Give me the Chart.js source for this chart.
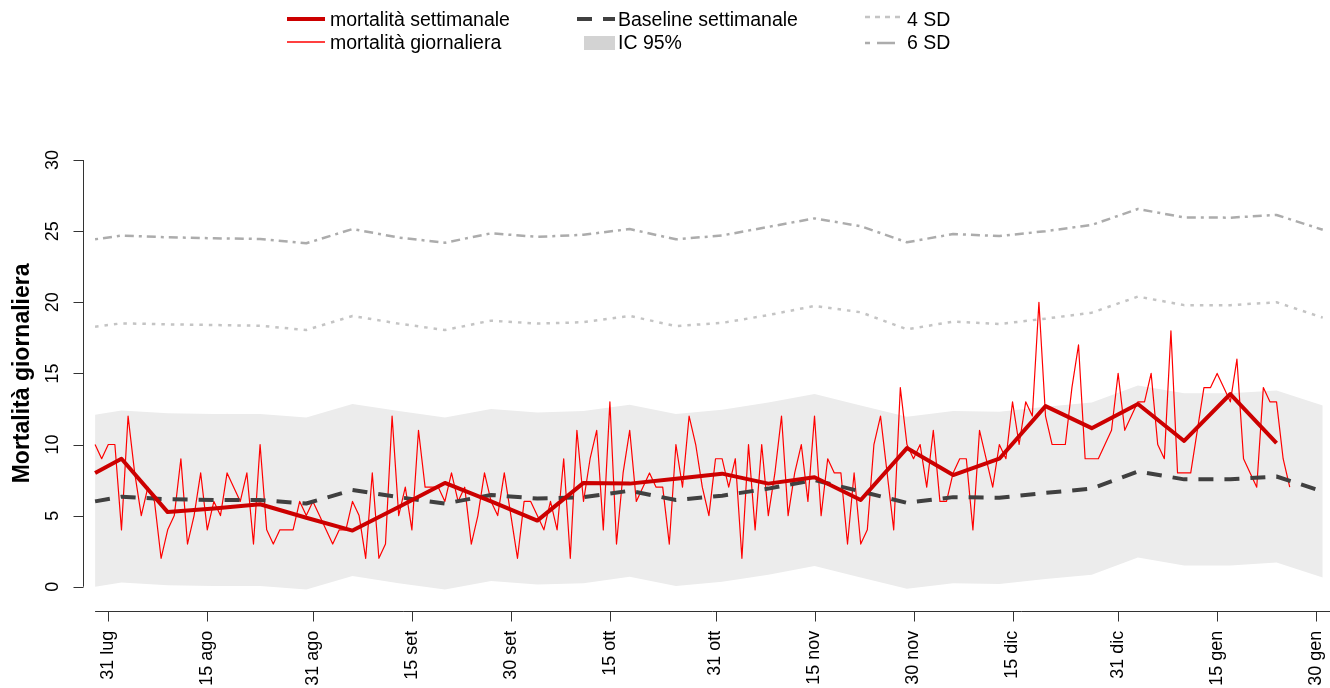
<!DOCTYPE html>
<html>
<head>
<meta charset="utf-8">
<script src="https://cdn.jsdelivr.net/npm/chart.js@4.4.0/dist/chart.umd.min.js"></script>
<style>
  body { margin: 0; background: #fff; }
  #wrap { position: relative; width: 1330px; height: 688px; }
  #legend { position: absolute; left: 0; top: 0; width: 1330px; height: 60px;
            font-family: 'Liberation Sans', Arial, sans-serif; font-size: 19.5px; color: #000; }
  #legend span { position: absolute; line-height: 22px; white-space: nowrap; }
  #legend svg { position: absolute; }
</style>
</head>
<body>
<div id="wrap">
  <canvas id="myChart" width="1330" height="688"></canvas>
  <div id="legend">
    <svg style="left:285px;top:14px" width="42" height="10"><line x1="2" y1="5" x2="40" y2="5" stroke="#cc0000" stroke-width="4"/></svg>
    <span style="left:330px;top:8px">mortalità settimanale</span>
    <svg style="left:285px;top:37px" width="42" height="10"><line x1="2" y1="5" x2="40" y2="5" stroke="#ff0000" stroke-width="1.5"/></svg>
    <span style="left:330px;top:31px">mortalità giornaliera</span>

    <svg style="left:575px;top:14px" width="42" height="10"><line x1="2" y1="5" x2="40" y2="5" stroke="#404040" stroke-width="4" stroke-dasharray="15 11"/></svg>
    <span style="left:618px;top:8px">Baseline settimanale</span>
    <svg style="left:584px;top:36px" width="31" height="14"><rect x="0" y="0" width="31" height="14" fill="#d3d3d3"/></svg>
    <span style="left:618px;top:31px">IC 95%</span>

    <svg style="left:863px;top:12px" width="40" height="10"><line x1="2" y1="5" x2="37" y2="5" stroke="#c4c4c4" stroke-width="2.5" stroke-dasharray="5 5"/></svg>
    <span style="left:907px;top:8px">4 SD</span>
    <svg style="left:863px;top:38px" width="40" height="10"><line x1="2" y1="5" x2="37" y2="5" stroke="#acacac" stroke-width="2.5" stroke-dasharray="5 7 18 7"/></svg>
    <span style="left:907px;top:31px">6 SD</span>
  </div>
</div>
<script>
    // giorni contati dal 31 luglio (giorno 0)
    var tickDays = [0, 15, 31, 46, 61, 76, 92, 107, 122, 137, 153, 168, 183];
    var tickLabels = ['31 lug', '15 ago', '31 ago', '15 set', '30 set', '15 ott', '31 ott',
                      '15 nov', '30 nov', '15 dic', '31 dic', '15 gen', '30 gen'];
    var yTicks = [0, 5, 10, 15, 20, 25, 30];

    // settimane
    var weekDays = [-2, 2, 9, 16, 23, 30, 37, 44, 51, 58, 65, 72, 79, 86, 93, 100, 107,
                    114, 121, 128, 135, 142, 149, 156, 163, 170, 177, 184];
    var mortSett = [8.0, 9.0, 5.25, 5.5, 5.8, 4.85, 3.95, 5.6, 7.3, 6.0, 4.65, 7.3, 7.25, 7.6,
                    7.95, 7.25, 7.7, 6.1, 9.75, 7.85, 9.0, 12.7, 11.15, 12.85, 10.25, 13.55, 10.1];
    var baseline = [6.0, 6.33, 6.15, 6.1, 6.1, 5.85, 6.8, 6.3, 5.85, 6.45, 6.2, 6.3, 6.75, 6.1,
                    6.4, 6.9, 7.5, 6.7, 5.9, 6.3, 6.25, 6.6, 6.9, 8.1, 7.55, 7.55, 7.75, 6.7];
    var icLow = [0.0, 0.3, 0.1, 0.05, 0.05, -0.2, 0.75, 0.25, -0.2, 0.4, 0.15, 0.25, 0.7, 0.05,
                 0.35, 0.85, 1.45, 0.65, -0.15, 0.25, 0.2, 0.55, 0.85, 2.05, 1.5, 1.5, 1.7, 0.65];
    var icHigh = [12.1, 12.4, 12.2, 12.15, 12.15, 11.9, 12.85, 12.35, 11.9, 12.5, 12.25, 12.35, 12.8, 12.15,
                  12.45, 12.95, 13.55, 12.75, 11.95, 12.35, 12.3, 12.65, 12.95, 14.15, 13.6, 13.6, 13.8, 12.75];
    var sd4 = [18.28, 18.52, 18.45, 18.4, 18.35, 18.05, 19.04, 18.5, 18.05, 18.71, 18.5, 18.6, 19.04, 18.33,
               18.55, 19.1, 19.74, 19.3, 18.1, 18.64, 18.47, 18.85, 19.27, 20.4, 19.8, 19.8, 20.0, 18.92];
    var sd6 = [24.43, 24.69, 24.57, 24.5, 24.45, 24.15, 25.15, 24.55, 24.19, 24.85, 24.6, 24.75, 25.15, 24.43,
               24.7, 25.3, 25.9, 25.35, 24.22, 24.8, 24.66, 25.0, 25.44, 26.56, 25.97, 25.95, 26.14, 25.1];

    // mortalità giornaliera dal 29 luglio (giorno -2)
    var firstDay = -2;
    var mortGiorn = [
        10, 9, 10, 10, 4, 12, 8, 5, 7, 6,
        2, 4, 5, 9, 3, 5, 8, 4, 6, 5,
        8, 7, 6, 8, 3, 10, 4, 3, 4, 4,
        4, 6, 5, 6, 5, 4, 3, 4, 4, 6,
        5, 2, 8, 2, 3, 12, 5,
        7, 4, 11, 7, 7, 7, 6, 8, 6, 7,
        3, 5, 8, 6, 5, 8, 5, 2, 6, 6,
        5, 4, 6, 4, 9, 2, 11, 6, 9, 11,
        4, 13, 3, 8, 11, 6, 7, 8, 7, 7,
        3, 10, 7, 12, 10, 7, 5, 9,
        9, 7, 9, 2, 10, 4, 10, 5, 8, 12,
        5, 8, 10, 6, 12, 5, 9, 8, 8, 3,
        8, 3, 4, 10, 12, 8, 4, 14, 10, 9,
        10, 7, 11, 6, 6, 8, 9, 9, 4, 11,
        9, 7, 10,
        9, 13, 10, 13, 12, 20, 12, 10, 10, 10,
        14, 17, 9, 9, 9, 10, 11, 15, 11, 12,
        13, 13, 15, 10, 9, 18, 8, 8, 8, 11,
        14, 14, 15, 14, 13, 16, 9, 8, 7, 14,
        13, 13, 9, 7
    ];

    function pts(days, vals) {
        return vals.map(function (v, i) { return {x: days[i], y: v}; });
    }
    var dailyPts = mortGiorn.map(function (v, i) { return {x: firstDay + i, y: v}; });

    var tickFont = {family: "'Liberation Sans', Arial, sans-serif", size: 18};

    // assi alla maniera di R: linea solo tra il primo e l'ultimo tick
    var rAxes = {
        id: 'rAxes',
        afterDraw: function (chart) {
            var ctx = chart.ctx, area = chart.chartArea;
            var x = chart.scales.x, y = chart.scales.y;
            ctx.save();
            ctx.strokeStyle = '#333';
            ctx.lineWidth = 1;
            ctx.beginPath();
            var ax = Math.round(area.left) + 0.5;
            ctx.moveTo(ax, y.getPixelForValue(yTicks[0]));
            ctx.lineTo(ax, y.getPixelForValue(yTicks[yTicks.length - 1]));
            yTicks.forEach(function (v) {
                var py = Math.round(y.getPixelForValue(v)) + 0.5;
                ctx.moveTo(ax, py);
                ctx.lineTo(ax - 10, py);
            });
            var ay = Math.round(area.bottom + 7) + 0.5;
            ctx.moveTo(x.getPixelForValue(firstDay), ay);
            ctx.lineTo(area.right, ay);
            tickDays.forEach(function (d) {
                var px = Math.round(x.getPixelForValue(d)) + 0.5;
                ctx.moveTo(px, ay);
                ctx.lineTo(px, ay + 10);
            });
            ctx.stroke();
            ctx.restore();
        }
    };

    var ctx = document.getElementById('myChart').getContext('2d');
    var myChart = new Chart(ctx, {
        type: 'line',
        data: {
            datasets: [{
                label: 'IC 95% inf',
                data: pts(weekDays, icLow),
                borderWidth: 0,
                fill: false,
                order: 6
            }, {
                label: 'IC 95%',
                data: pts(weekDays, icHigh),
                borderWidth: 0,
                backgroundColor: '#ececec',
                fill: 0,
                order: 5
            }, {
                label: '6 SD',
                data: pts(weekDays, sd6),
                borderColor: '#acacac',
                borderWidth: 2.5,
                borderDash: [3, 5, 9, 5],
                order: 4
            }, {
                label: '4 SD',
                data: pts(weekDays, sd4),
                borderColor: '#c4c4c4',
                borderWidth: 2.5,
                borderDash: [3.5, 6],
                order: 3
            }, {
                label: 'mortalità giornaliera',
                data: dailyPts,
                borderColor: '#ff0000',
                borderWidth: 1.2,
                order: 2
            }, {
                label: 'Baseline settimanale',
                data: pts(weekDays, baseline),
                borderColor: '#404040',
                borderWidth: 4,
                borderDash: [15, 11],
                order: 1
            }, {
                label: 'mortalità settimanale',
                data: pts(weekDays, mortSett),
                borderColor: '#cc0000',
                borderWidth: 4,
                order: 0
            }]
        },
        options: {
            responsive: false,
            animation: false,
            events: [],
            elements: {
                point: {radius: 0},
                line: {tension: 0, borderJoinStyle: 'round'}
            },
            layout: {padding: {top: 143, right: 0, bottom: 0, left: 0}},
            plugins: {
                legend: {display: false},
                tooltip: {enabled: false}
            },
            scales: {
                x: {
                    type: 'linear',
                    min: -3.83,
                    max: 185.1,
                    afterBuildTicks: function (s) { s.ticks = tickDays.map(function (d) { return {value: d}; }); },
                    afterFit: function (s) {
                        s.height = 84.2;
                        s.paddingLeft = 0;
                        s.paddingRight = 0;
                    },
                    grid: {display: false, drawTicks: false},
                    border: {display: false},
                    ticks: {
                        autoSkip: false,
                        minRotation: 90,
                        maxRotation: 90,
                        padding: 27,
                        color: '#000',
                        font: tickFont,
                        callback: function (v, i) { return tickLabels[i]; }
                    }
                },
                y: {
                    min: -1.2,
                    max: 31.2,
                    afterBuildTicks: function (s) { s.ticks = yTicks.map(function (v) { return {value: v}; }); },
                    afterFit: function (s) {
                        s.width = 83;
                        s.paddingTop = 0;
                        s.paddingBottom = 0;
                    },
                    grid: {display: false, drawTicks: false},
                    border: {display: false},
                    ticks: {
                        minRotation: 90,
                        maxRotation: 90,
                        crossAlign: 'center',
                        padding: 20,
                        color: '#000',
                        font: tickFont
                    },
                    title: {
                        display: true,
                        text: 'Mortalità giornaliera',
                        color: '#000',
                        font: {family: "'Liberation Sans', Arial, sans-serif", size: 23, weight: 'bold'},
                        padding: {top: 9, bottom: 0}
                    }
                }
            }
        },
        plugins: [rAxes]
    });
</script>
</body>
</html>
